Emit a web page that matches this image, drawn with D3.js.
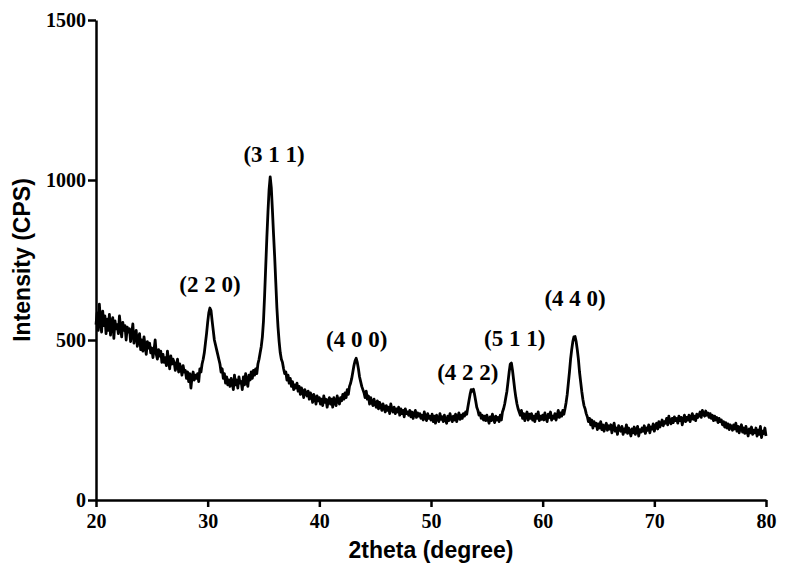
<!DOCTYPE html>
<html lang="en">
<head>
  <meta charset="UTF-8">
  <title>XRD pattern</title>
  <script src="https://d3js.org/d3.v7.min.js"></script>
  <style>
    * { margin: 0; padding: 0; box-sizing: border-box; }
    body { width: 785px; height: 574px; background: #fff; overflow: hidden; }
    .tick text { font-family: "Liberation Serif", "Times New Roman", serif; font-weight: bold; font-size: 20px; fill: #000; }
    .title { font-family: "Liberation Sans", Arial, sans-serif; font-weight: bold; font-size: 23px; fill: #000; }
    .peak { font-family: "Liberation Serif", "Times New Roman", serif; font-weight: bold; font-size: 23px; fill: #000; }
  </style>
</head>
<body>
  <div id="chart"></div>

  <script>
    // scan runs 20 -> 80 deg 2theta, one reading every 0.1 deg
    const scanStart = 20;
    const scanStep = 0.1;

    // intensity (CPS), one row per degree (x.0 ... x.9)
    const intensity = [
      548, 585, 530, 612, 560, 525, 590, 545, 575, 520, // 20
      565, 530, 580, 515, 555, 570, 505, 560, 535, 548, // 21
      520, 575, 540, 510, 555, 530, 545, 500, 540, 525, // 22
      535, 495, 520, 550, 490, 515, 530, 480, 505, 520, // 23
      470, 500, 465, 510, 480, 455, 495, 475, 490, 460, // 24
      475, 445, 470, 500, 455, 440, 470, 450, 465, 430, // 25
      455, 430, 445, 420, 465, 435, 410, 450, 425, 440, // 26
      430, 405, 420, 440, 400, 425, 410, 390, 420, 400, // 27
      405, 380, 400, 370, 395, 350, 385, 400, 375, 390, // 28
      380, 395, 370, 410, 400, 425, 440, 460, 490, 520, // 29
      555, 585, 600, 592, 560, 530, 500, 485, 470, 455, // 30
      440, 425, 400, 410, 380, 395, 365, 385, 360, 375, // 31
      355, 380, 365, 345, 390, 360, 375, 350, 385, 365, // 32
      370, 345, 385, 360, 395, 370, 355, 390, 375, 400, // 33
      380, 405, 390, 410, 395, 425, 440, 460, 480, 510, // 34
      560, 640, 730, 820, 900, 970, 1010, 975, 905, 830, // 35
      760, 680, 600, 540, 495, 460, 440, 430, 410, 395, // 36
      400, 375, 390, 365, 380, 355, 370, 345, 360, 350, // 37
      365, 340, 355, 330, 350, 340, 320, 345, 335, 325, // 38
      340, 315, 335, 325, 305, 330, 320, 300, 325, 310, // 39
      320, 300, 315, 295, 325, 305, 315, 290, 310, 320, // 40
      300, 315, 290, 320, 305, 295, 325, 310, 300, 320, // 41
      310, 330, 315, 335, 320, 345, 330, 355, 365, 380, // 42
      400, 420, 435, 443, 430, 410, 385, 370, 355, 345, // 43
      335, 320, 340, 315, 325, 300, 320, 305, 295, 315, // 44
      300, 290, 310, 285, 305, 295, 280, 300, 290, 275, // 45
      295, 280, 290, 270, 300, 285, 275, 290, 270, 285, // 46
      275, 290, 265, 285, 270, 280, 260, 285, 270, 275, // 47
      265, 280, 260, 275, 255, 270, 280, 258, 272, 262, // 48
      270, 255, 265, 250, 275, 258, 248, 270, 255, 262, // 49
      250, 268, 245, 262, 240, 265, 255, 245, 270, 252, // 50
      260, 245, 265, 250, 240, 262, 248, 270, 255, 245, // 51
      262, 250, 268, 245, 258, 272, 252, 265, 255, 270, // 52
      262, 275, 268, 290, 310, 330, 345, 340, 346, 330, // 53
      310, 290, 280, 265, 272, 255, 265, 250, 262, 248, // 54
      265, 252, 240, 260, 248, 268, 255, 242, 262, 250, // 55
      258, 245, 265, 250, 275, 285, 300, 320, 340, 370, // 56
      400, 425, 428, 405, 375, 345, 320, 300, 285, 275, // 57
      265, 280, 255, 270, 248, 265, 275, 250, 268, 255, // 58
      270, 250, 262, 245, 268, 255, 275, 248, 262, 252, // 59
      265, 250, 272, 255, 245, 268, 258, 275, 250, 262, // 60
      255, 270, 250, 265, 280, 258, 272, 262, 280, 268, // 61
      285, 305, 330, 365, 400, 440, 470, 495, 510, 511, // 62
      495, 470, 440, 400, 370, 340, 315, 295, 285, 270, // 63
      260, 245, 255, 235, 250, 225, 245, 232, 240, 220, // 64
      238, 225, 245, 220, 235, 215, 230, 240, 218, 232, // 65
      222, 235, 210, 228, 240, 215, 225, 205, 232, 220, // 66
      215, 230, 205, 222, 212, 235, 208, 225, 215, 200, // 67
      222, 210, 228, 205, 218, 230, 200, 220, 212, 225, // 68
      215, 232, 208, 225, 218, 235, 210, 228, 222, 238, // 69
      215, 230, 240, 222, 245, 228, 238, 250, 232, 245, // 70
      240, 255, 235, 262, 245, 238, 255, 242, 260, 248, // 71
      255, 240, 262, 248, 258, 235, 252, 265, 245, 258, // 72
      250, 265, 245, 258, 270, 252, 262, 248, 268, 258, // 73
      265, 275, 258, 280, 268, 262, 278, 265, 272, 258, // 74
      270, 255, 265, 248, 262, 250, 258, 242, 255, 245, // 75
      250, 235, 245, 228, 242, 225, 238, 220, 235, 228, // 76
      218, 235, 222, 240, 215, 230, 210, 225, 235, 212, // 77
      225, 208, 230, 215, 200, 222, 210, 228, 205, 218, // 78
      210, 225, 200, 218, 205, 230, 195, 215, 208, 225, // 79
      200                                               // 80
    ];

    const xTicks = [20, 30, 40, 50, 60, 70, 80];
    const yTicks = [0, 500, 1000, 1500];

    // peak (hkl) labels and where they sit, in data units
    const peakNames = ['(2 2 0)', '(3 1 1)', '(4 0 0)', '(4 2 2)', '(5 1 1)', '(4 4 0)'];
    const peakLabelX = [30.2, 35.95, 43.35, 53.3, 57.5, 62.9];
    const peakLabelY = [650, 1056, 478, 375, 481, 606];

    const width = 785;
    const height = 574;
    const margin = { top: 20, right: 19, bottom: 74, left: 96 };

    const svg = d3.select('#chart')
      .append('svg')
      .attr('width', width)
      .attr('height', height);

    const x = d3.scaleLinear().domain([20, 80]).range([margin.left, width - margin.right]);
    const y = d3.scaleLinear().domain([0, 1500]).range([height - margin.bottom, margin.top]);

    const points = intensity.map((v, i) => [scanStart + i * scanStep, v]);

    // pattern
    const line = d3.line()
      .x(d => x(d[0]))
      .y(d => y(d[1]));

    svg.append('path')
      .datum(points)
      .attr('fill', 'none')
      .attr('stroke', '#000')
      .attr('stroke-width', 2.8)
      .attr('stroke-linejoin', 'round')
      .attr('d', line);

    // axes
    const xAxis = svg.append('g')
      .attr('transform', `translate(0,${height - margin.bottom})`)
      .call(d3.axisBottom(x).tickValues(xTicks).tickFormat(d3.format('d'))
        .tickSize(7).tickPadding(7).tickSizeOuter(0));

    const yAxis = svg.append('g')
      .attr('transform', `translate(${margin.left},0)`)
      .call(d3.axisLeft(y).tickValues(yTicks).tickFormat(d3.format('d'))
        .tickSize(8).tickPadding(2).tickSizeOuter(0));

    [xAxis, yAxis].forEach(a => {
      a.select('.domain').attr('stroke-width', 2.5);
      a.selectAll('.tick line').attr('stroke-width', 2.5);
    });

    // peak labels
    svg.selectAll('.peak')
      .data(peakNames)
      .enter()
      .append('text')
      .attr('class', 'peak')
      .attr('text-anchor', 'middle')
      .attr('x', (d, i) => x(peakLabelX[i]))
      .attr('y', (d, i) => y(peakLabelY[i]))
      .text(d => d);

    // axis titles
    svg.append('text')
      .attr('class', 'title')
      .attr('text-anchor', 'middle')
      .attr('x', x(50))
      .attr('y', 558)
      .text('2theta (degree)');

    svg.append('text')
      .attr('class', 'title')
      .attr('text-anchor', 'middle')
      .attr('transform', `translate(30,${y(750)}) rotate(-90)`)
      .text('Intensity (CPS)');
  </script>
</body>
</html>
